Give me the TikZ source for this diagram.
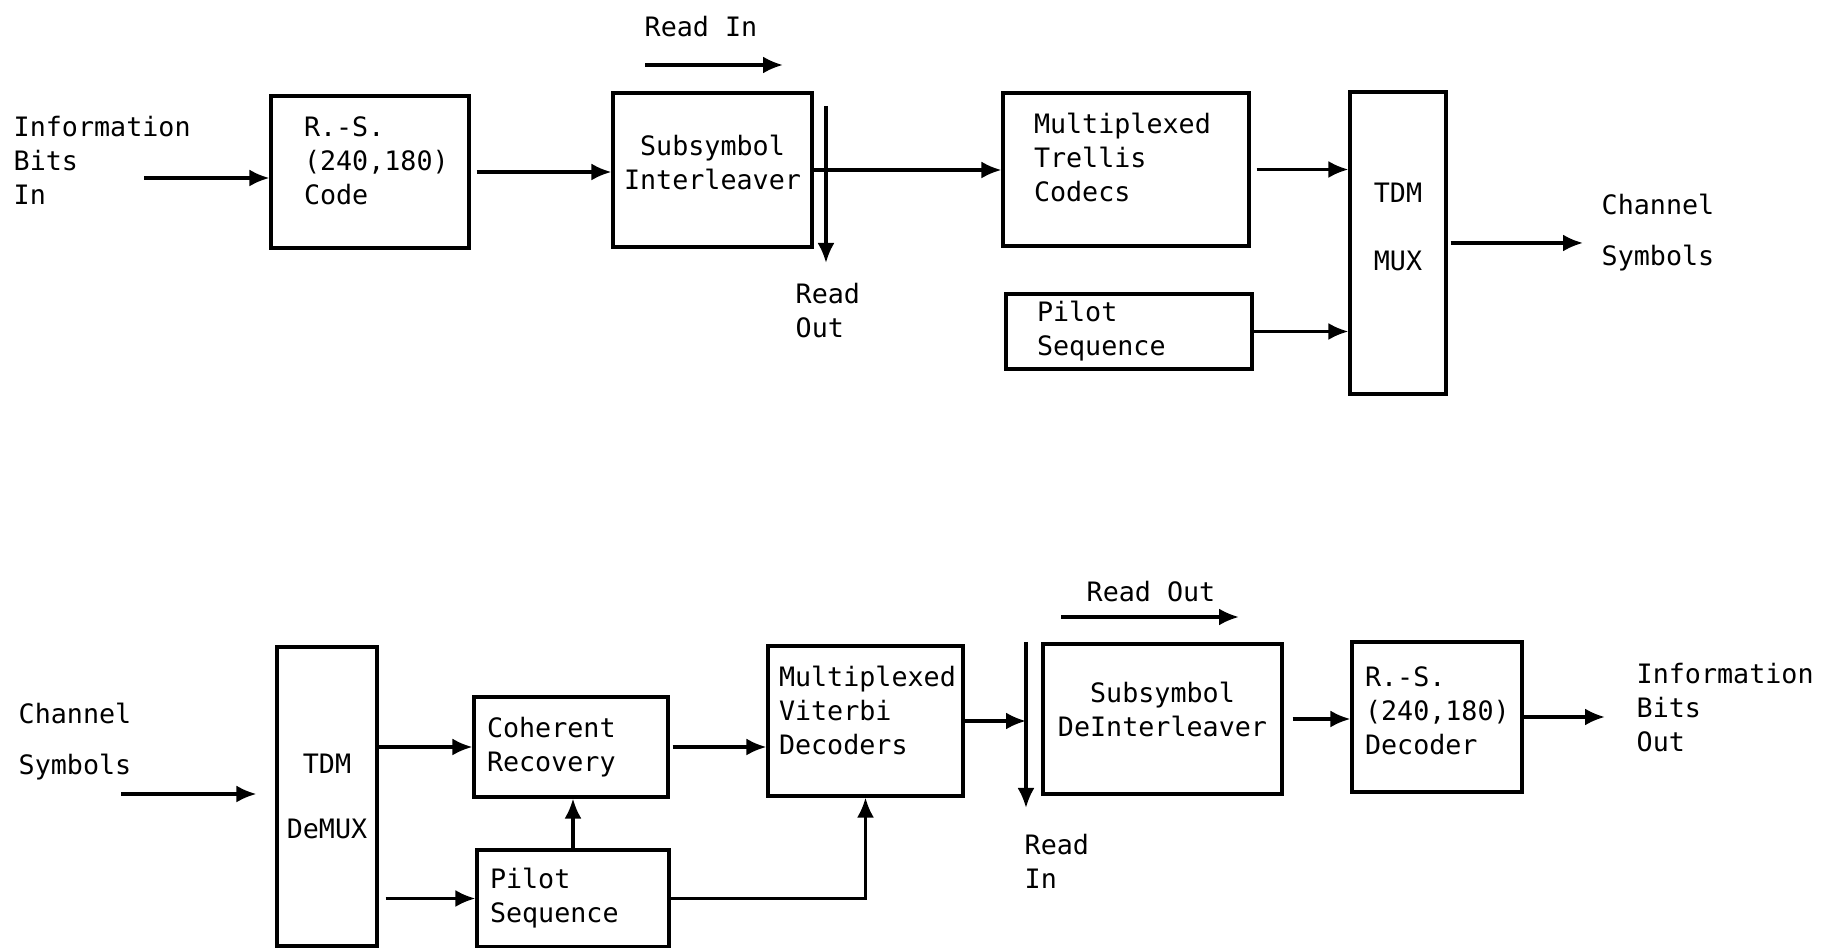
\documentclass[tikz,border=0pt]{standalone}
\usepackage{fontspec}
\usepackage{tikz}
\usetikzlibrary{arrows.meta}
\newfontfamily\tw{DejaVu Sans Mono}
\newcommand\diagfont{\tw\fontsize{7.6}{9.7}\selectfont}

\begin{document}
\begin{tikzpicture}
  [block/.style={draw, line width=0.9pt, inner sep=0pt, align=center, font=\diagfont},
   lblock/.style={block, align=left, inner xsep=#1},
   txt/.style={inner sep=0pt, align=left, font=\diagfont},
   flow/.style={-{Latex[length=2mm,width=1.7mm]}, line width=0.9pt}]

\useasboundingbox (0,0) rectangle (18.35,-9.48);

% transmitter
\node[txt, anchor=west] (ibi) at (0.13,-1.605) {Information\\Bits\\In};
\coordinate (ibi0) at (1.44,-1.78);
\node[lblock=0.33cm, text width=1.32cm, minimum width=1.98cm, minimum height=1.52cm, text depth=0.91cm] (rsc) at (3.70,-1.72) {R.-S.\\(240,180)\\Code};
\node[block, minimum width=1.99cm, minimum height=1.54cm, text depth=0.16cm] (ilv) at (7.125,-1.70) {Subsymbol\\Interleaver};
\node[lblock=0.31cm, text width=1.84cm, minimum width=2.46cm, minimum height=1.53cm, text depth=0.93cm] (trl) at (11.26,-1.695) {Multiplexed\\Trellis\\Codecs};
\node[lblock=0.31cm, text width=1.84cm, minimum width=2.46cm, minimum height=0.75cm] (plt) at (11.29,-3.315) {Pilot\\Sequence};
\node[block, minimum width=0.96cm, minimum height=3.02cm, text depth=0.32cm] (mux) at (13.98,-2.43) {TDM\\[9.6pt]MUX};
\node[txt, anchor=west] (chs) at (16.01,-2.325) {Channel\\[4.8pt]Symbols};
\coordinate (chs0) at (15.83,-2.43);

\node[txt] (rin) at (7.01,-0.27) {Read In};
\coordinate (ria) at (6.45,-0.65);
\coordinate (rib) at (7.83,-0.65);
\node[txt, anchor=west] (rout) at (7.95,-3.105) {Read\\Out};
\coordinate (roa) at (8.26,-1.06);
\coordinate (rob) at (8.26,-2.63);

\draw[flow] (ibi0) -- (ibi0 -| rsc.west);
\draw[flow] ([xshift=0.06cm]rsc.east) -- (rsc.east -| ilv.west);
\draw[flow] (ilv.east) -- (ilv.east -| trl.west);
\draw[flow] ([xshift=0.06cm]trl.east) -- (trl.east -| mux.west);
\draw[flow] (plt.east) -- (plt.east -| mux.west);
\draw[flow] ([xshift=0.03cm]mux.east) -- (mux.east -| chs0);
\draw[flow] (ria) -- (rib);
\draw[flow] (roa) -- (rob);

% receiver
\node[txt, anchor=west] (chi) at (0.18,-7.42) {Channel\\[4.8pt]Symbols};
\coordinate (chi0) at (1.21,-7.94);
\node[block, minimum width=1.00cm, minimum height=2.99cm] (dmx) at (3.27,-7.965) {TDM\\[8.7pt]DeMUX};
\node[lblock=0.13cm, text width=1.68cm, minimum width=1.94cm, minimum height=1.00cm] (coh) at (5.71,-7.47) {Coherent\\Recovery};
\node[lblock=0.13cm, text width=1.66cm, minimum width=1.92cm, minimum height=0.97cm] (pl2) at (5.73,-8.985) {Pilot\\Sequence};
\node[lblock=0.11cm, text width=1.73cm, minimum width=1.95cm, minimum height=1.50cm, text depth=0.90cm] (vit) at (8.655,-7.21) {Multiplexed\\Viterbi\\Decoders};
\node[block, minimum width=2.39cm, minimum height=1.50cm, text depth=0.20cm] (dil) at (11.625,-7.19) {Subsymbol\\DeInterleaver};
\node[lblock=0.13cm, text width=1.44cm, minimum width=1.70cm, minimum height=1.50cm, text depth=0.81cm] (rsd) at (14.37,-7.17) {R.-S.\\(240,180)\\Decoder};
\node[txt, anchor=west] (ibo) at (16.36,-7.075) {Information\\Bits\\Out};
\coordinate (ibo0) at (16.05,-7.20);

\node[txt] (rot) at (11.51,-5.92) {Read Out};
\coordinate (rxa) at (10.61,-6.17);
\coordinate (rxb) at (12.39,-6.17);
\node[txt, anchor=west] (rit) at (10.24,-8.615) {Read\\In};
\coordinate (rya) at (10.26,-6.42);
\coordinate (ryb) at (10.26,-8.08);

\draw[flow, shorten >=0.19cm] (chi0) -- (chi0 -| dmx.west);
\draw[flow] (coh.west -| dmx.east) -- (coh.west);
\draw[flow, shorten <=0.07cm] (pl2.west -| dmx.east) -- (pl2.west);
\draw[flow] (pl2.north) -- (pl2.north |- coh.south);
\draw[flow] ([xshift=0.03cm]coh.east) -- (coh.east -| vit.west);
\draw[flow] (pl2.east) -| (vit.south);
\draw[flow] (vit.east) -- (vit.east -| rya);
\draw[flow] (rya) -- (ryb);
\draw[flow] (rxa) -- (rxb);
\draw[flow, shorten <=0.09cm] (dil.east) -- (dil.east -| rsd.west);
\draw[flow] (rsd.east) -- (rsd.east -| ibo0);

\end{tikzpicture}
\end{document}
